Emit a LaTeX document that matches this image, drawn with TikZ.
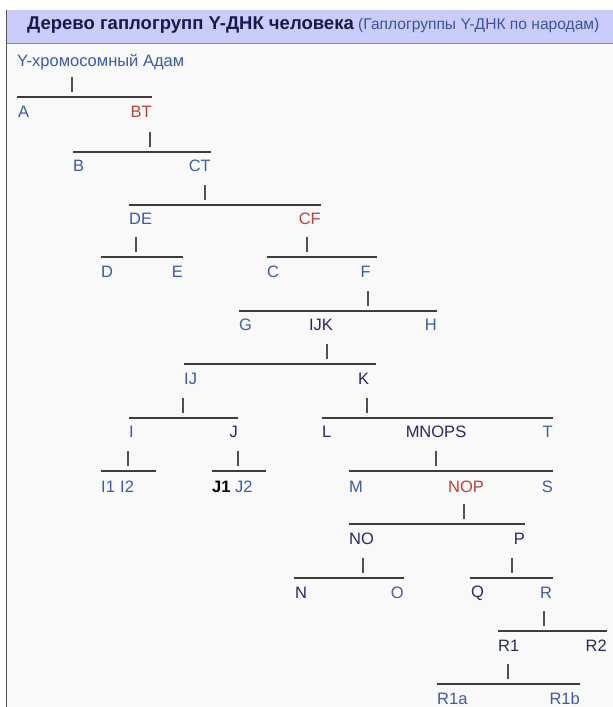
\documentclass[tikz,border=0pt]{standalone}
\usepackage{fontspec}
\setmainfont{Liberation Sans}
\definecolor{cblue}{RGB}{60,90,165}
\definecolor{cnavy}{RGB}{40,40,105}
\definecolor{cslate}{RGB}{70,95,150}
\definecolor{cred}{RGB}{185,65,60}
\definecolor{chtext}{RGB}{25,25,80}
\definecolor{cparen}{RGB}{55,85,160}
\definecolor{chead}{RGB}{204,204,250}
\definecolor{cbody}{RGB}{249,249,249}
\definecolor{cline}{RGB}{60,60,60}
\definecolor{ctick}{RGB}{80,80,80}
\definecolor{cleft}{RGB}{85,85,85}
\definecolor{cborder}{RGB}{140,140,150}
\begin{document}
\begin{tikzpicture}[x=1pt,y=-1pt,
  lab/.style={inner sep=0pt, font=\fontsize{16.5}{19}\selectfont},
  bl/.style={lab,text=cblue},
  nv/.style={lab,text=cnavy},
  rd/.style={lab,text=cred},
  sl/.style={lab,text=cslate},
  bar/.style={draw=cline, line width=1.3pt},
  tick/.style={draw=ctick, line width=1.3pt}]
\useasboundingbox (0,0) rectangle (613,707);
\fill[white] (0,0) rectangle (613,707);
\fill[cbody] (6,43) rectangle (613,707);
\fill[chead] (6,10) rectangle (613,43);
\draw[cborder, line width=0.8pt] (6,43) -- (613,43);
\draw[cleft, line width=1.6pt] (6.5,10) -- (6.5,707);
% header
\node[anchor=west, inner sep=0pt, font=\bfseries\fontsize{18.5}{20}\selectfont, text=chtext] (title) at (27,25) {Дерево гаплогрупп Y-ДНК человека};
\node[anchor=base west, inner sep=0pt, font=\fontsize{15.6}{17}\selectfont, text=cparen] (sub) at ([xshift=4pt]title.base east) {(Гаплогруппы Y-ДНК по народам)};
% root
\node[bl, anchor=base west] (adam) at (17,66) {Y-хромосомный Адам};
% labels
\node[bl, anchor=west] (A) at (18,112) {A};
\node[rd, anchor=east] (BT) at (152,112) {BT};
\node[bl, anchor=west] (B) at (73,166) {B};
\node[sl, anchor=east] (CT) at (211,166) {CT};
\node[bl, anchor=west] (DE) at (129,219) {DE};
\node[rd, anchor=east] (CF) at (321,219) {CF};
\node[bl, anchor=west] (D) at (101,272) {D};
\node[bl, anchor=east] (E) at (183,272) {E};
\node[bl, anchor=west] (C) at (267,272) {C};
\node[bl, anchor=east] (F) at (371,272) {F};
\node[sl, anchor=west] (G) at (239,325) {G};
\node[nv] (IJK) at (321,325) {IJK};
\node[bl, anchor=east] (H) at (437,325) {H};
\node[bl, anchor=west] (IJ) at (184,379) {IJ};
\node[nv, anchor=west] (K) at (358,379) {K};
\node[bl, anchor=west] (I) at (129,432) {I};
\node[nv, anchor=east] (J) at (238,432) {J};
\node[nv, anchor=west] (L) at (322,432) {L};
\node[nv] (MNOPS) at (436,432) {MNOPS};
\node[sl, anchor=east] (T) at (553,432) {T};
\node[bl, anchor=west] (I1) at (101,487) {I1};
\node[bl, anchor=west] (I2) at (120,487) {I2};
\node[lab, anchor=west, text=black, font=\fontsize{16.5}{19}\selectfont\bfseries] (J1) at (212,487) {J1};
\node[bl, anchor=west] (J2) at (235,487) {J2};
\node[bl, anchor=west] (M) at (349,487) {M};
\node[rd] (NOP) at (466,487) {NOP};
\node[sl, anchor=east] (S) at (553,487) {S};
\node[nv, anchor=west] (NO) at (349,539) {NO};
\node[nv, anchor=east] (P) at (525,539) {P};
\node[nv, anchor=west] (N) at (295,593) {N};
\node[sl, anchor=east] (O) at (404,593) {O};
\node[nv, anchor=west] (Q) at (471,593) {Q};
\node[bl, anchor=west] (R) at (540,593) {R};
\node[nv, anchor=west] (R1) at (498,646) {R1};
\node[nv, anchor=east] (R2) at (607,646) {R2};
\node[bl, anchor=west] (R1a) at (437,699) {R1a};
\node[bl, anchor=east] (R1b) at (580,699) {R1b};
% bars
\draw[bar] (17,97) -- (152,97);
\draw[bar] (73,152) -- (211,152);
\draw[bar] (129,205) -- (321,205);
\draw[bar] (101,257) -- (183,257);
\draw[bar] (267,257) -- (377,257);
\draw[bar] (239,311) -- (437,311);
\draw[bar] (184,364) -- (376,364);
\draw[bar] (129,418) -- (238,418);
\draw[bar] (322,418) -- (553,418);
\draw[bar] (101,471) -- (156,471);
\draw[bar] (212,471) -- (266,471);
\draw[bar] (349,471) -- (553,471);
\draw[bar] (349,524) -- (525,524);
\draw[bar] (294,578) -- (404,578);
\draw[bar] (470,578) -- (553,578);
\draw[bar] (498,631) -- (607,631);
\draw[bar] (437,684) -- (580,684);
% ticks
\foreach \x/\y in {72/97, 150/152, 205/205, 136/257, 307/257, 368/311, 327/364,
  183/418, 367/418, 128/471, 238/471, 436/471, 464/524, 363/578, 512/578,
  544/631, 508/684}
  \draw[tick] (\x,\y-20) -- (\x,\y-5);
\end{tikzpicture}
\end{document}
